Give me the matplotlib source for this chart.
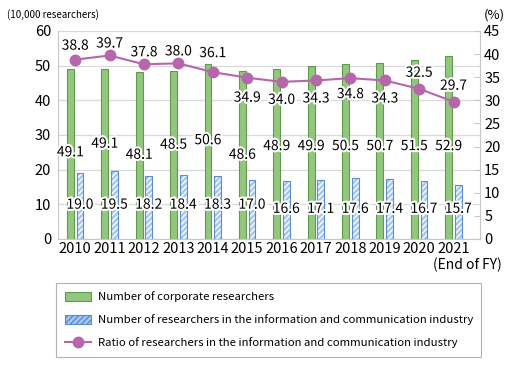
import matplotlib
matplotlib.use('Agg')
import matplotlib.pyplot as plt
import matplotlib.patheffects as pe
from matplotlib.lines import Line2D
from matplotlib.patches import Patch
import numpy as np

plt.rcParams['font.family'] = ['Noto Sans CJK JP', 'DejaVu Sans']

years = ['2010', '2011', '2012', '2013', '2014', '2015',
         '2016', '2017', '2018', '2019', '2020', '2021']
corporate = [49.1, 49.1, 48.1, 48.5, 50.6, 48.6, 48.9, 49.9, 50.5, 50.7, 51.5, 52.9]
ict = [19.0, 19.5, 18.2, 18.4, 18.3, 17.0, 16.6, 17.1, 17.6, 17.4, 16.7, 15.7]
ratio = [38.8, 39.7, 37.8, 38.0, 36.1, 34.9, 34.0, 34.3, 34.8, 34.3, 32.5, 29.7]

# label placement (layout only)
corp_lbl_y = [25.0, 27.5, 24.3, 27.2, 28.5, 24.3, 26.8, 26.8, 26.8, 26.8, 26.8, 26.8]
ict_lbl_y = [9.9] * 6 + [8.7] * 6
ratio_off = [14, 12, 12, 12, 19, -20, -18, -18, -16, -18, 16, 16]

green, green_edge = '#93c77f', '#5e9a48'
blue, blue_edge = '#a6c8f0', '#5b8ccc'
pink = '#b666ab'
grey = '#c8c8c8'

fig = plt.figure(figsize=(5.22, 3.70), dpi=100)
ax = fig.add_axes([58 / 522, 131 / 370, 422 / 522, 208 / 370])
x = np.arange(len(years))
w = 0.2

ax.bar(x - 0.14, corporate, w, color=green, edgecolor=green_edge, linewidth=0.8, zorder=2)
ax.bar(x + 0.14, ict, w, color=blue, edgecolor='white', hatch='//////', linewidth=0, zorder=2)
ax.bar(x + 0.14, ict, w, fill=False, edgecolor=blue_edge, linewidth=0.8, zorder=3)

halo = [pe.withStroke(linewidth=3, foreground='white')]
for i in range(len(years)):
    ax.text(x[i] - 0.14, corp_lbl_y[i], f'{corporate[i]:.1f}', ha='center', va='center',
            fontsize=10, path_effects=halo, zorder=5)
    ax.text(x[i] + 0.14, ict_lbl_y[i], f'{ict[i]:.1f}', ha='center', va='center',
            fontsize=10, path_effects=halo, zorder=5)

ax.set_xlim(-0.5, 11.77)
ax.set_ylim(0, 60)
ax.set_yticks(range(0, 61, 10))
ax.set_xticks(x)
ax.set_xticklabels(years)
ax.tick_params(axis='y', length=0, pad=5, labelsize=10.5)
ax.tick_params(axis='x', length=0, pad=2, labelsize=10.5)
ax.yaxis.grid(True, color='#d9d9d9', linewidth=0.9, zorder=0)
ax.set_axisbelow(True)
for s in ['left', 'bottom']:
    ax.spines[s].set_color(grey)
ax.spines['top'].set_visible(False)
ax.spines['right'].set_visible(False)

ax2 = ax.twinx()
ax2.plot(x, ratio, color=pink, linewidth=1.5, marker='o', markersize=7.5, zorder=4)
for i in range(len(years)):
    ax2.annotate(f'{ratio[i]:.1f}', (x[i], ratio[i]), xytext=(0, ratio_off[i]),
                 textcoords='offset pixels', ha='center', va='center', fontsize=10,
                 path_effects=halo, zorder=6)
ax2.set_ylim(0, 45)
ax2.set_yticks(range(0, 46, 5))
ax2.tick_params(axis='y', direction='in', length=4, color=grey, pad=3, labelsize=10.5)
for s in ['left', 'top', 'bottom']:
    ax2.spines[s].set_visible(False)
ax2.spines['right'].set_color(grey)

fig.text(7 / 522, 1 - 15 / 370, '(10,000 researchers)', fontsize=7, va='center', ha='left')
fig.text(505 / 522, 1 - 15 / 370, '(%)', fontsize=9.5, va='center', ha='right')
fig.text(502 / 522, 1 - 265 / 370, '(End of FY)', fontsize=10, va='center', ha='right')

handles = [Patch(facecolor=green, edgecolor=green_edge, linewidth=0.8),
           Patch(facecolor=blue, edgecolor=blue_edge, hatch='//////', linewidth=0.8),
           Line2D([], [], color=pink, linewidth=1.5, marker='o', markersize=7.5)]
labels = ['Number of corporate researchers',
          'Number of researchers in the information and communication industry',
          'Ratio of researchers in the information and communication industry']
leg = fig.legend(handles, labels, loc='upper left', bbox_to_anchor=(56 / 522, 1 - 283 / 370),
                 fontsize=8.2, frameon=True, fancybox=False, edgecolor='#a0a0a0',
                 handlelength=2.3, handleheight=0.9, labelspacing=1.05, borderpad=0.75,
                 handletextpad=0.6, borderaxespad=0)
leg.get_frame().set_linewidth(0.8)

fig.savefig('out.png', dpi=100)
